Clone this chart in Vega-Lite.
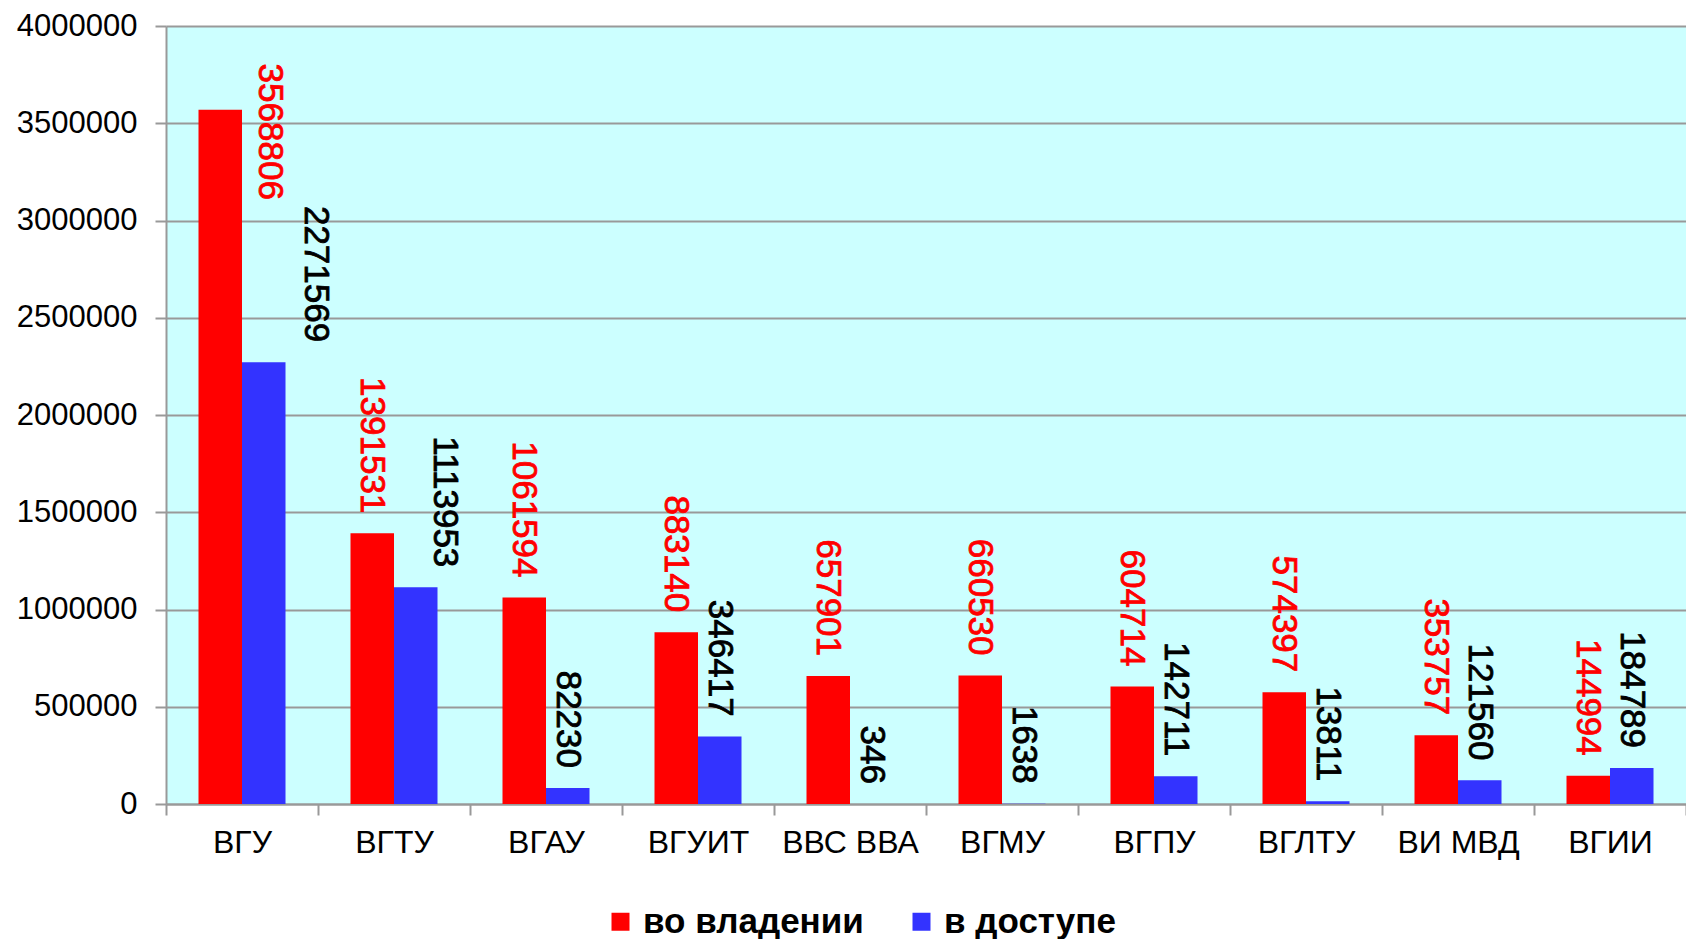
{
  "$schema": "https://vega.github.io/schema/vega-lite/v6.json",
  "autosize": {"type": "none"},
  "padding": {"left": 166, "top": 26, "right": 0, "bottom": 135},
  "width": 1520,
  "height": 778,
  "background": "#FFFFFF",
  "config": {
    "view": {"fill": "#CCFFFF", "stroke": null},
    "font": "Liberation Sans",
    "axis": {"labelFont": "Liberation Sans", "labelColor": "#000000", "titleColor": "#000000"}
  },
  "data": {
    "values": [
      {"univ": "ВГУ", "series": "во владении", "value": 3568806},
      {"univ": "ВГУ", "series": "в доступе", "value": 2271569},
      {"univ": "ВГТУ", "series": "во владении", "value": 1391531},
      {"univ": "ВГТУ", "series": "в доступе", "value": 1113953},
      {"univ": "ВГАУ", "series": "во владении", "value": 1061594},
      {"univ": "ВГАУ", "series": "в доступе", "value": 82230},
      {"univ": "ВГУИТ", "series": "во владении", "value": 883140},
      {"univ": "ВГУИТ", "series": "в доступе", "value": 346417},
      {"univ": "ВВС ВВА", "series": "во владении", "value": 657901},
      {"univ": "ВВС ВВА", "series": "в доступе", "value": 346},
      {"univ": "ВГМУ", "series": "во владении", "value": 660530},
      {"univ": "ВГМУ", "series": "в доступе", "value": 1638},
      {"univ": "ВГПУ", "series": "во владении", "value": 604714},
      {"univ": "ВГПУ", "series": "в доступе", "value": 142711},
      {"univ": "ВГЛТУ", "series": "во владении", "value": 574397},
      {"univ": "ВГЛТУ", "series": "в доступе", "value": 13811},
      {"univ": "ВИ МВД", "series": "во владении", "value": 353757},
      {"univ": "ВИ МВД", "series": "в доступе", "value": 121560},
      {"univ": "ВГИИ", "series": "во владении", "value": 144994},
      {"univ": "ВГИИ", "series": "в доступе", "value": 184789}
    ]
  },
  "encoding": {
    "x": {
      "field": "univ", "type": "nominal", "sort": null,
      "scale": {"paddingInner": 0, "paddingOuter": 0},
      "axis": {
        "title": null, "labelAngle": 0, "labelFontSize": 32, "labelPadding": 12,
        "tickBand": "extent", "tickSize": 11, "tickWidth": 2, "tickColor": "#999999",
        "domainColor": "#999999", "domainWidth": 2, "grid": false
      }
    },
    "xOffset": {
      "field": "series", "type": "nominal", "sort": ["во владении", "в доступе"],
      "scale": {"paddingInner": 0, "paddingOuter": 0.747}
    },
    "y": {
      "field": "value", "type": "quantitative",
      "scale": {"domain": [0, 4000000], "nice": false},
      "axis": {
        "title": null, "values": [0, 500000, 1000000, 1500000, 2000000, 2500000, 3000000, 3500000, 4000000],
        "format": "d", "labelFontSize": 31, "labelPadding": 18,
        "tickSize": 11, "tickWidth": 2, "tickColor": "#999999",
        "domainColor": "#999999", "domainWidth": 2,
        "grid": true, "gridColor": "#999999", "gridWidth": 2
      }
    }
  },
  "layer": [
    {
      "mark": {"type": "bar"},
      "encoding": {
        "color": {
          "field": "series", "type": "nominal",
          "scale": {"domain": ["во владении", "в доступе"], "range": ["#FF0000", "#3333FF"]},
          "legend": {
            "title": null, "orient": "none", "direction": "horizontal",
            "legendX": 437, "legendY": 878,
            "symbolType": "square", "symbolSize": 324, "symbolStrokeWidth": 0,
            "labelFontSize": 35, "labelFontWeight": "bold", "labelFont": "Liberation Sans",
            "labelColor": "#000000", "labelOffset": 5, "columnPadding": 40, "labelLimit": 0
          }
        }
      }
    },
    {
      "transform": [{"filter": "datum.series === 'во владении' && datum.univ !== 'ВГУ'"}],
      "mark": {"type": "text", "angle": 90, "align": "right", "baseline": "middle", "dx": -20, "fontSize": 35, "color": "#FF0000", "stroke": "#FF0000", "strokeWidth": 0.8},
      "encoding": {"text": {"field": "value", "type": "quantitative", "format": "d"}}
    },
    {
      "transform": [{"filter": "datum.series === 'во владении' && datum.univ === 'ВГУ'"}],
      "mark": {"type": "text", "angle": 90, "align": "right", "baseline": "middle", "dx": 90, "dy": -50, "fontSize": 35, "color": "#FF0000", "stroke": "#FF0000", "strokeWidth": 0.8},
      "encoding": {"text": {"field": "value", "type": "quantitative", "format": "d"}}
    },
    {
      "transform": [{"filter": "datum.series === 'в доступе' && datum.univ !== 'ВГУ' && datum.univ !== 'ВГТУ'"}],
      "mark": {"type": "text", "angle": 90, "align": "right", "baseline": "middle", "dx": -20, "fontSize": 35, "color": "#000000", "stroke": "#000000", "strokeWidth": 0.8},
      "encoding": {"text": {"field": "value", "type": "quantitative", "format": "d"}}
    },
    {
      "transform": [{"filter": "datum.series === 'в доступе' && datum.univ === 'ВГУ'"}],
      "mark": {"type": "text", "angle": 90, "align": "right", "baseline": "middle", "dx": -20, "dy": -52, "fontSize": 35, "color": "#000000", "stroke": "#000000", "strokeWidth": 0.8},
      "encoding": {"text": {"field": "value", "type": "quantitative", "format": "d"}}
    },
    {
      "transform": [{"filter": "datum.series === 'в доступе' && datum.univ === 'ВГТУ'"}],
      "mark": {"type": "text", "angle": 90, "align": "right", "baseline": "middle", "dx": -20, "dy": -29, "fontSize": 35, "color": "#000000", "stroke": "#000000", "strokeWidth": 0.8},
      "encoding": {"text": {"field": "value", "type": "quantitative", "format": "d"}}
    }
  ]
}
